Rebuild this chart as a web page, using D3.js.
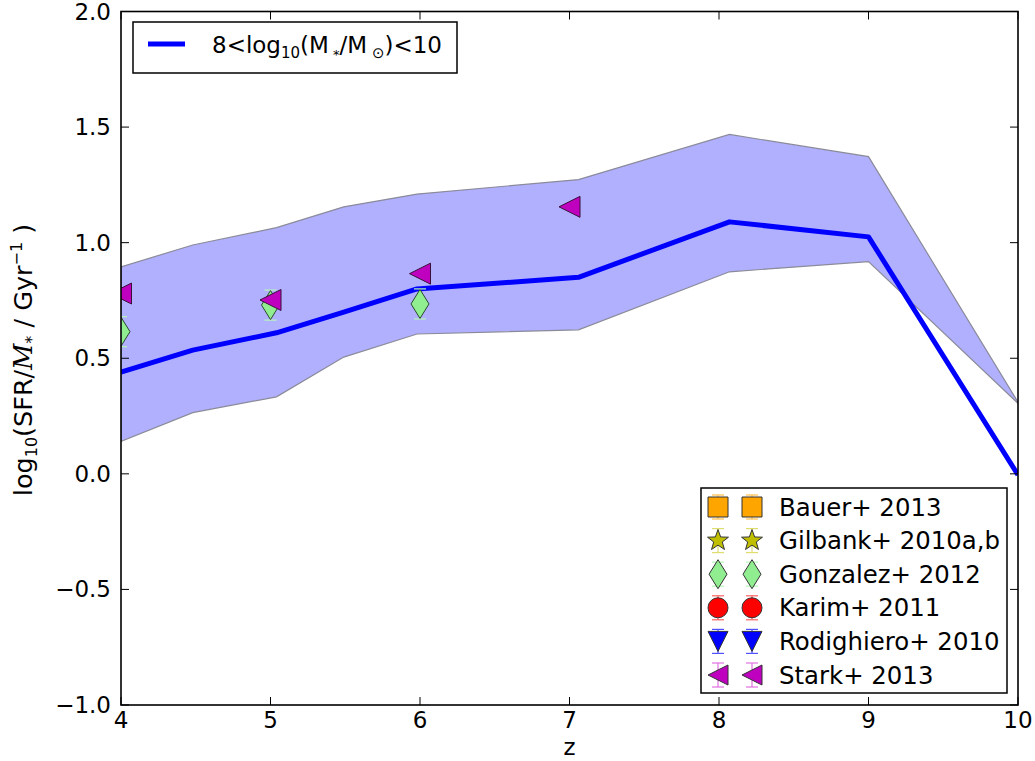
<!DOCTYPE html>
<html>
<head>
<meta charset="utf-8">
<script src="https://cdn.jsdelivr.net/npm/d3@7"></script>
<style>
  html, body { margin: 0; padding: 0; background: #fff; }
  svg { display: block; font-family: "DejaVu Sans", sans-serif; }
</style>
</head>
<body>
<svg id="chart" width="1035" height="761"></svg>
<script>
// ---- Data ----
const modelZ      = [4.0, 4.48, 5.04, 5.49, 5.98, 7.06, 8.07, 9.0, 10.0];
const modelMedian = [0.44, 0.535, 0.61, 0.70, 0.80, 0.85, 1.09, 1.025, -0.005];
const modelUpper  = [0.895, 0.99, 1.065, 1.155, 1.21, 1.273, 1.468, 1.372, 0.31];
const modelLower  = [0.14, 0.265, 0.333, 0.505, 0.605, 0.623, 0.874, 0.918, 0.305];

const starkZ   = [4.0, 5.0, 6.0, 7.0];
const starkVal = [0.78, 0.752, 0.866, 1.155];

const gonzalezZ   = [4.0, 5.0, 6.0];
const gonzalezVal = [0.615, 0.73, 0.735];
const gonzalezErr = [0.065, 0.065, 0.065];

// observational sets with no points inside the plotted range
const bauerZ = [], bauerVal = [];
const gilbankZ = [], gilbankVal = [];
const karimZ = [], karimVal = [];
const rodighieroZ = [], rodighieroVal = [];

const xTicks = [4, 5, 6, 7, 8, 9, 10];
const yTicks = [-1.0, -0.5, 0.0, 0.5, 1.0, 1.5, 2.0];

const legendEntries = [
  {label: "Bauer+ 2013",        shape: "square",   fill: "#ffa500", err: "#ffc04d"},
  {label: "Gilbank+ 2010a,b",   shape: "star",     fill: "#bfbf00", err: "#dede70"},
  {label: "Gonzalez+ 2012",     shape: "diamond",  fill: "#90ee90", err: "#b8f5b8"},
  {label: "Karim+ 2011",        shape: "circle",   fill: "#ff0000", err: "#ff6060"},
  {label: "Rodighiero+ 2010",   shape: "tridown",  fill: "#0000ff", err: "#5050ff"},
  {label: "Stark+ 2013",        shape: "trileft",  fill: "#bf00bf", err: "#e070e0"}
];

// ---- Layout ----
const svg = d3.select("#chart");
const L = 121, R = 1018, T = 11.5, B = 705;
const x = d3.scaleLinear().domain([4, 10]).range([L, R]);
const y = d3.scaleLinear().domain([-1, 2]).range([B, T]);
const FS = 23;      // tick labels
const FL = 24.4;    // legend / axis labels

svg.append("defs").append("clipPath").attr("id", "clip")
  .append("rect").attr("x", L).attr("y", T).attr("width", R - L).attr("height", B - T);

const plot = svg.append("g").attr("clip-path", "url(#clip)");

// band
const band = modelZ.map((z, i) => ({z, lo: modelLower[i], hi: modelUpper[i]}));
plot.append("path")
  .datum(band)
  .attr("d", d3.area().x(d => x(d.z)).y0(d => y(d.lo)).y1(d => y(d.hi)))
  .attr("fill", "#0000ff").attr("fill-opacity", 0.31)
  .attr("stroke", "#8a8a9a").attr("stroke-width", 1.2);

// median line
plot.append("path")
  .datum(modelZ.map((z, i) => ({z, v: modelMedian[i]})))
  .attr("d", d3.line().x(d => x(d.z)).y(d => y(d.v)))
  .attr("fill", "none").attr("stroke", "#0000ff").attr("stroke-width", 5)
  .attr("stroke-linejoin", "round");

// marker shapes
function shapePath(shape, r) {
  switch (shape) {
    case "square": return `M${-r},${-r}H${r}V${r}H${-r}Z`;
    case "circle": return `M${r},0A${r},${r} 0 1,1 ${-r},0A${r},${r} 0 1,1 ${r},0Z`;
    case "diamond": { const w = r * 0.9, h = r * 1.45; return `M0,${-h}L${w},0L0,${h}L${-w},0Z`; }
    case "tridown": return `M${-r},${-r}L${r},${-r}L0,${r}Z`;
    case "trileft": return `M${-r},0L${r},${-r}L${r},${r}Z`;
    case "star": {
      let p = "";
      for (let k = 0; k < 10; k++) {
        const rr = k % 2 === 0 ? r * 1.1 : r * 0.45;
        const a = -Math.PI / 2 + k * Math.PI / 5;
        p += (k === 0 ? "M" : "L") + (rr * Math.cos(a)).toFixed(2) + "," + (rr * Math.sin(a)).toFixed(2);
      }
      return p + "Z";
    }
  }
}

// Gonzalez error bars + markers
const gData = gonzalezZ.map((z, i) => ({z, v: gonzalezVal[i], e: gonzalezErr[i]}));
const gG = plot.append("g");
gData.forEach(d => {
  const cx = x(d.z), y0 = y(d.v - d.e), y1 = y(d.v + d.e);
  gG.append("line").attr("x1", cx).attr("x2", cx).attr("y1", y0).attr("y2", y1)
    .attr("stroke", "#b8f5b8").attr("stroke-width", 1.2);
  [y0, y1].forEach(yy => gG.append("line").attr("x1", cx - 6).attr("x2", cx + 6)
    .attr("y1", yy).attr("y2", yy).attr("stroke", "#b8f5b8").attr("stroke-width", 1.2));
});
gG.selectAll("path").data(gData).join("path")
  .attr("transform", d => `translate(${x(d.z)},${y(d.v)})`)
  .attr("d", shapePath("diamond", 10))
  .attr("fill", "#90ee90").attr("stroke", "#2a4a2a").attr("stroke-width", 1);

// Stark markers
const sData = starkZ.map((z, i) => ({z, v: starkVal[i]}));
plot.append("g").selectAll("path").data(sData).join("path")
  .attr("transform", d => `translate(${x(d.z)},${y(d.v)})`)
  .attr("d", shapePath("trileft", 10.5))
  .attr("fill", "#bf00bf").attr("stroke", "#3a103a").attr("stroke-width", 1);

// ---- Axes frame and ticks ----
const ax = svg.append("g");
ax.append("rect").attr("x", L).attr("y", T).attr("width", R - L).attr("height", B - T)
  .attr("fill", "none").attr("stroke", "#000").attr("stroke-width", 1.6);

const tickLen = 8;
xTicks.forEach(t => {
  const px = x(t);
  ax.append("line").attr("x1", px).attr("x2", px).attr("y1", B).attr("y2", B - tickLen).attr("stroke", "#000");
  ax.append("line").attr("x1", px).attr("x2", px).attr("y1", T).attr("y2", T + tickLen).attr("stroke", "#000");
  ax.append("text").attr("x", px).attr("y", B + 23).attr("text-anchor", "middle")
    .attr("font-size", FS).attr("fill", "#000").text(d3.format("d")(t));
});
yTicks.forEach(t => {
  const py = y(t);
  ax.append("line").attr("x1", L).attr("x2", L + tickLen).attr("y1", py).attr("y2", py).attr("stroke", "#000");
  ax.append("line").attr("x1", R).attr("x2", R - tickLen).attr("y1", py).attr("y2", py).attr("stroke", "#000");
  ax.append("text").attr("x", L - 10).attr("y", py + 8).attr("text-anchor", "end")
    .attr("font-size", FS).attr("fill", "#000").text(d3.format(".1f")(t).replace("-", "\u2212"));
});

// axis labels
svg.append("text").attr("x", (L + R) / 2).attr("y", 754.5).attr("text-anchor", "middle")
  .attr("font-size", 23).text("z");

const yl = svg.append("text").attr("transform", "translate(32,360) rotate(-90)")
  .attr("text-anchor", "middle").attr("font-size", 25.5);
yl.append("tspan").text("log");
yl.append("tspan").attr("font-size", 16).attr("dy", 5).text("10");
yl.append("tspan").attr("dy", -5).text("(SFR/");
yl.append("tspan").attr("font-family", "DejaVu Serif").attr("font-style", "italic").text("M");
yl.append("tspan").attr("font-size", 16).attr("dy", 5).text("*");
yl.append("tspan").attr("dy", -5).text(" / Gyr");
yl.append("tspan").attr("font-size", 16).attr("dy", -10).text("\u22121");
yl.append("tspan").attr("dy", 10).text(" )");

// ---- Legend 1 (model) ----
const lg1 = svg.append("g");
lg1.append("rect").attr("x", 133).attr("y", 22).attr("width", 324).attr("height", 51)
  .attr("fill", "#fff").attr("stroke", "#000").attr("stroke-width", 1.5);
lg1.append("line").attr("x1", 148).attr("x2", 185).attr("y1", 44).attr("y2", 44)
  .attr("stroke", "#0000ff").attr("stroke-width", 5);
const t1 = lg1.append("text").attr("x", 212).attr("y", 53).attr("font-size", FS);
t1.append("tspan").text("8<log");
t1.append("tspan").attr("font-size", 15).attr("dy", 5).text("10");
t1.append("tspan").attr("dy", -5).text("(M");
t1.append("tspan").attr("font-size", 13).attr("dy", 6).text(" *");
t1.append("tspan").attr("dy", -6).text("/M");
t1.append("tspan").attr("font-size", 15).attr("dy", 5).text(" \u2299");
t1.append("tspan").attr("dy", -5).text(")<10");

// ---- Legend 2 (observations) ----
const lg2 = svg.append("g");
lg2.append("rect").attr("x", 701).attr("y", 488).attr("width", 306).attr("height", 205)
  .attr("fill", "#fff").attr("stroke", "#000").attr("stroke-width", 1.5);
const rowY = d3.scaleLinear().domain([0, legendEntries.length - 1]).range([507, 675]);
legendEntries.forEach((e, i) => {
  const cy = rowY(i);
  [718, 752].forEach(cx => {
    lg2.append("line").attr("x1", cx).attr("x2", cx).attr("y1", cy - 12).attr("y2", cy + 12)
      .attr("stroke", e.err).attr("stroke-width", 1.2);
    [cy - 12, cy + 12].forEach(yy => lg2.append("line").attr("x1", cx - 6).attr("x2", cx + 6)
      .attr("y1", yy).attr("y2", yy).attr("stroke", e.err).attr("stroke-width", 1.2));
    lg2.append("path").attr("transform", `translate(${cx},${cy})`)
      .attr("d", shapePath(e.shape, 10))
      .attr("fill", e.fill).attr("stroke", "#333").attr("stroke-width", 1);
  });
  lg2.append("text").attr("x", 779).attr("y", cy + 8.5).attr("font-size", FL).text(e.label);
});
</script>
</body>
</html>
